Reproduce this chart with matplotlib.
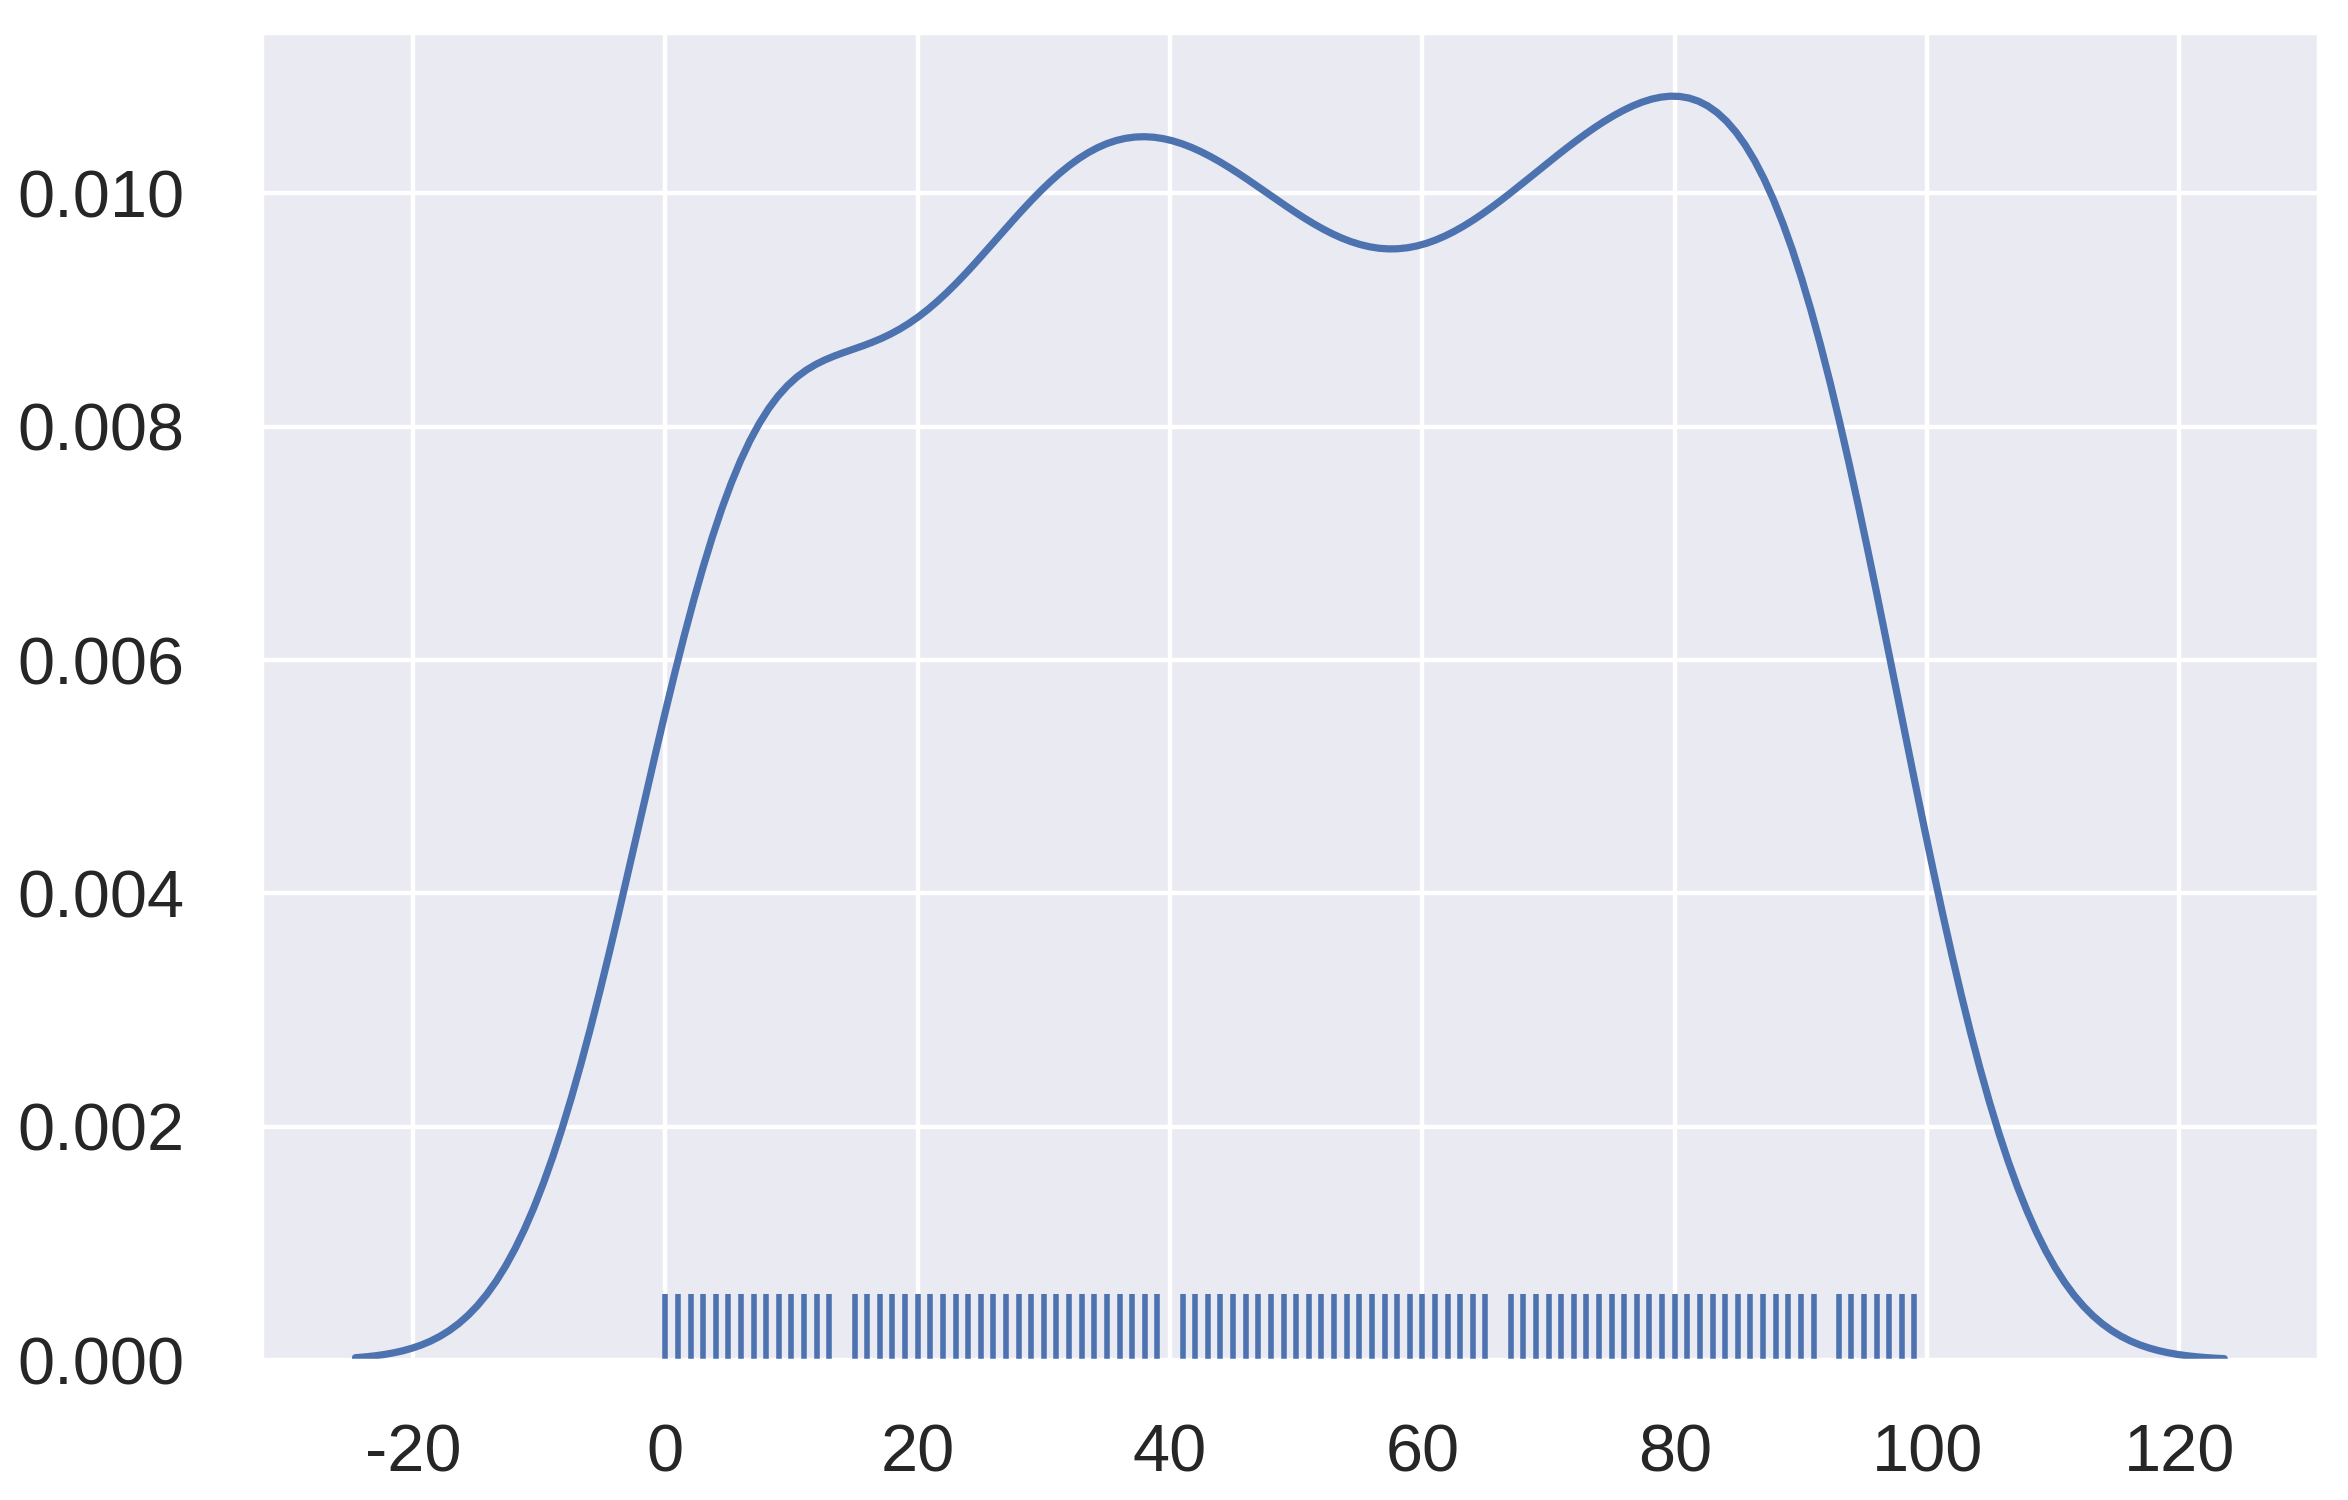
import numpy as np
import matplotlib
matplotlib.use("Agg")
import matplotlib.pyplot as plt
import seaborn as sns

# integer scores 0..99 and how often each one occurs (0 = not present in the rug)
scores = list(range(100))
score_counts = [
    7, 8, 6, 6, 6, 6, 5, 7, 5, 5,
    5, 5, 4, 6, 0, 6, 4, 5, 4, 5,
    4, 5, 4, 5, 5, 5, 6, 5, 5, 6,
    6, 6, 5, 6, 7, 7, 6, 6, 6, 9,
    0, 8, 6, 6, 5, 6, 6, 6, 5, 6,
    5, 5, 6, 5, 5, 5, 4, 5, 5, 4,
    5, 5, 5, 5, 6, 8, 0, 8, 6, 5,
    6, 6, 6, 6, 5, 6, 7, 6, 6, 5,
    6, 7, 5, 7, 6, 6, 6, 7, 7, 7,
    7, 10, 0, 7, 5, 5, 5, 4, 4, 3,
]

x_ticks = [-20, 0, 20, 40, 60, 80, 100, 120]
y_ticks = [0.000, 0.002, 0.004, 0.006, 0.008, 0.010]

sns.set_theme(style="darkgrid")
plt.rcParams["font.family"] = ["Liberation Sans", "DejaVu Sans"]
plt.rcParams["axes.unicode_minus"] = False

data = np.repeat(scores, score_counts)
present = [s for s, c in zip(scores, score_counts) if c > 0]

fig = plt.figure(figsize=(11.74, 7.5), dpi=200)
ax = fig.add_axes([0.1116, 0.0933, 0.8755, 0.8847])

blue = "#4c72b0"
sns.kdeplot(x=data, ax=ax, color=blue, linewidth=2.6, cut=3)
kde_line = ax.lines[0]
sns.rugplot(x=present, ax=ax, color=blue, height=0.05, linewidth=2.0)

# same limits as the old distplot: curve range plus 5% margin, y from zero
xs = kde_line.get_xdata()
span = xs.max() - xs.min()
ax.set_xlim(xs.min() - 0.05 * span, xs.max() + 0.05 * span)
ax.set_ylim(0, kde_line.get_ydata().max() * 1.05)

ax.set_xticks(x_ticks)
ax.set_yticks(y_ticks)
ax.set_yticklabels([f"{v:.3f}" for v in y_ticks])
ax.set_xlabel("")
ax.set_ylabel("")
ax.tick_params(axis="x", labelsize=24, pad=17, colors=".15")
ax.tick_params(axis="y", labelsize=24, pad=22, colors=".15")
ax.grid(color="white", linewidth=1.6)

plt.savefig("out.png", dpi=200)
